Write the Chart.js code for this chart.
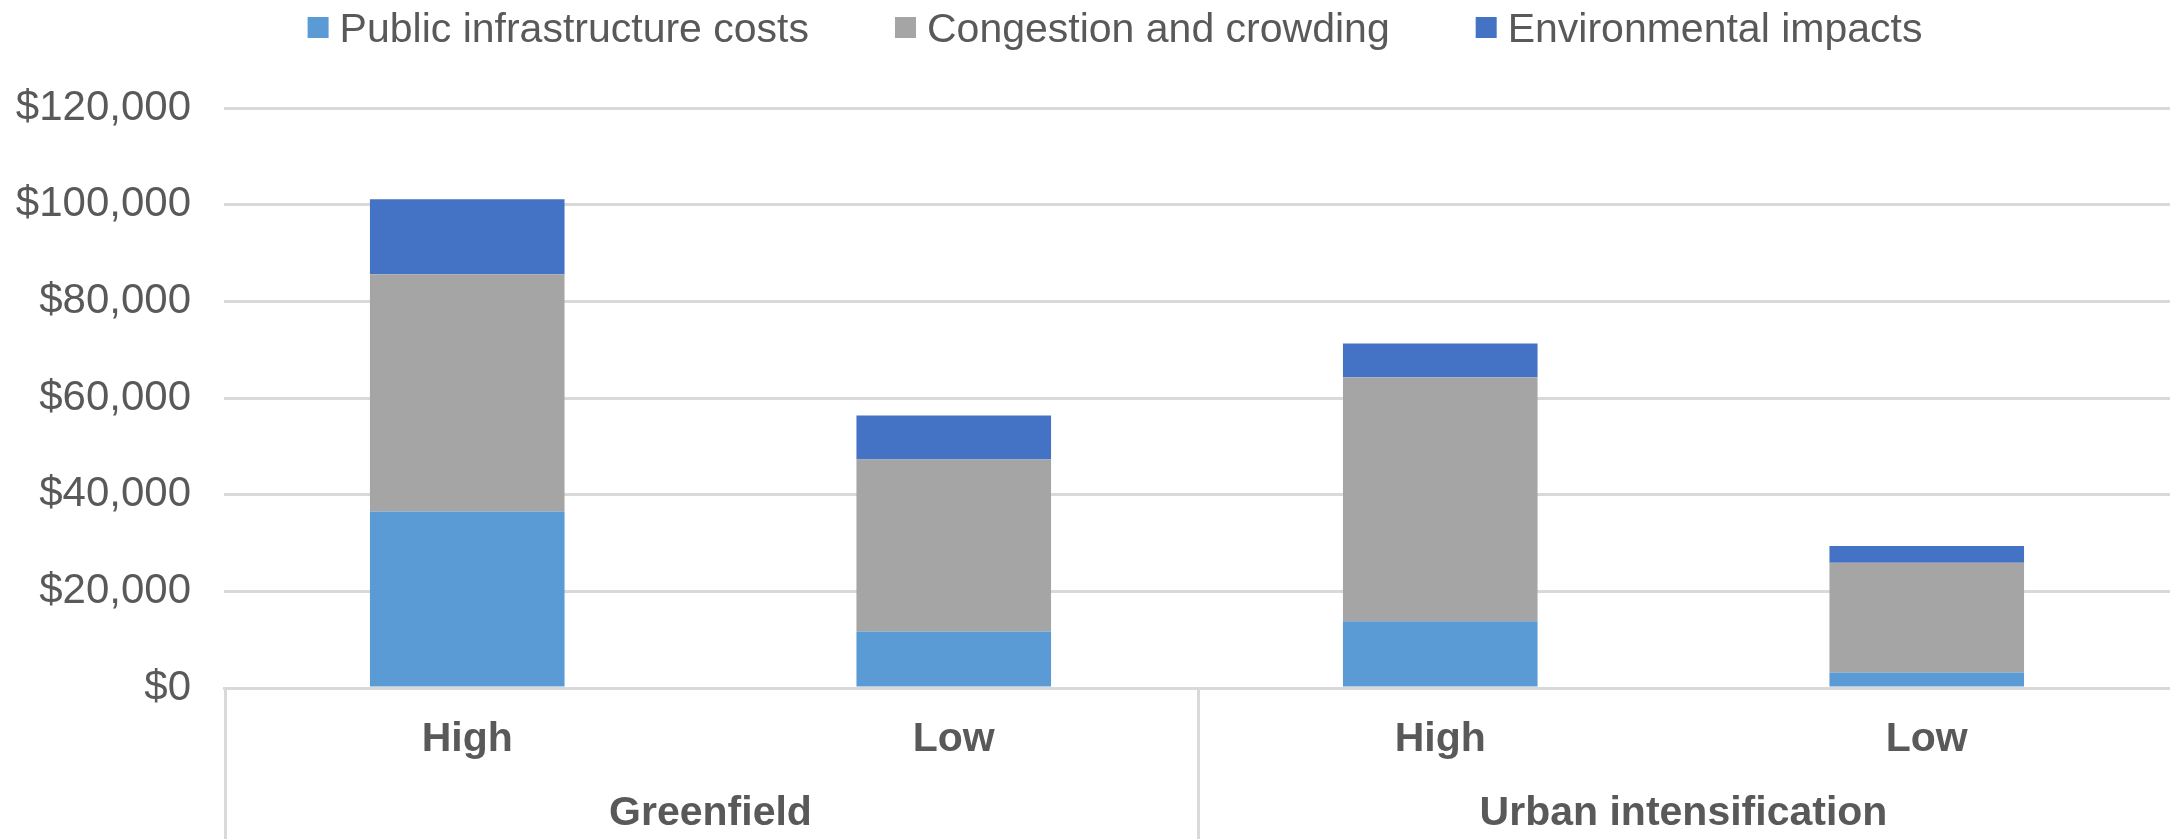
<!DOCTYPE html>
<html>
<head>
<meta charset="utf-8">
<title>Cost per dwelling by development type</title>
<script src="https://cdn.jsdelivr.net/npm/chart.js@4.4.1/dist/chart.umd.min.js"></script>
<style>
  html, body { margin: 0; padding: 0; background: #fff; }
  #chart { display: block; }
</style>
</head>
<body>
<canvas id="chart" width="2170" height="839"></canvas>
<script>
// Scenario labels along the axis, grouped two per development type
const scenarios = ['High', 'Low', 'High', 'Low'];
const groups = ['Greenfield', 'Urban intensification'];

// Cost per dwelling ($)
const infrastructure = [36500, 11700, 13800, 3200];
const congestion = [49100, 35600, 50500, 22700];
const environmental = [15500, 9100, 7000, 3500];

const yMax = 120000;
const yStep = 20000;

const textColor = '#595959';
const lineColor = '#d9d9d9';
const family = "'Liberation Sans', Arial, sans-serif";

// Second row of category labels plus the separators under the axis
const groupAxis = {
    id: 'groupAxis',
    afterDraw(chart) {
        const { ctx, chartArea, scales: { x } } = chart;
        const per = scenarios.length / groups.length;
        ctx.save();
        ctx.strokeStyle = lineColor;
        ctx.lineWidth = 3;
        for (let g = 0; g <= groups.length; g++) {
            let px;
            if (g === 0) px = x.left;
            else if (g === groups.length) px = x.right;
            else px = (x.getPixelForValue(g * per - 1) + x.getPixelForValue(g * per)) / 2;
            ctx.beginPath();
            ctx.moveTo(px + 1.5, chartArea.bottom);
            ctx.lineTo(px + 1.5, chart.height);
            ctx.stroke();
        }
        ctx.fillStyle = textColor;
        ctx.font = `bold 41px ${family}`;
        ctx.textAlign = 'center';
        ctx.textBaseline = 'alphabetic';
        groups.forEach((name, g) => {
            const a = x.getPixelForValue(g * per);
            const b = x.getPixelForValue(g * per + per - 1);
            ctx.fillText(name, (a + b) / 2, 825);
        });
        ctx.restore();
    }
};

// Legend row: square swatch, label, then a fixed gap to the next item
const legendRow = {
    id: 'legendRow',
    afterDraw(chart) {
        const { ctx } = chart;
        const box = 21, boxGap = 11, itemGap = 86;
        ctx.save();
        ctx.font = `41px ${family}`;
        const items = chart.data.datasets.map(ds => ({
            label: ds.label,
            color: ds.backgroundColor,
            w: ctx.measureText(ds.label).width
        }));
        const total = items.reduce((s, it) => s + box + boxGap + it.w, 0) + itemGap * (items.length - 1);
        let cx = chart.width / 2 + 30 - total / 2;
        ctx.textBaseline = 'alphabetic';
        ctx.textAlign = 'left';
        items.forEach(it => {
            ctx.fillStyle = it.color;
            ctx.fillRect(cx, 17, box, box);
            ctx.fillStyle = textColor;
            ctx.fillText(it.label, cx + box + boxGap, 42);
            cx += box + boxGap + it.w + itemGap;
        });
        ctx.restore();
    }
};

new Chart(document.querySelector('#chart').getContext('2d'), {
    type: 'bar',
    data: {
        labels: scenarios,
        datasets: [
            {
                label: 'Public infrastructure costs',
                data: infrastructure,
                backgroundColor: '#5b9bd5'
            },
            {
                label: 'Congestion and crowding',
                data: congestion,
                backgroundColor: '#a5a5a5'
            },
            {
                label: 'Environmental impacts',
                data: environmental,
                backgroundColor: '#4472c4'
            }
        ]
    },
    options: {
        responsive: false,
        animation: false,
        devicePixelRatio: 1,
        categoryPercentage: 0.8,
        barPercentage: 0.5,
        layout: { padding: { top: 108, right: 0, left: 0, bottom: 0 } },
        plugins: {
            legend: { display: false },
            tooltip: { enabled: false }
        },
        scales: {
            x: {
                stacked: true,
                grid: { display: false, drawTicks: false },
                border: { display: true, color: lineColor, width: 3 },
                ticks: {
                    color: textColor,
                    padding: 27,
                    font: { family: family, size: 41, weight: 'bold' }
                },
                afterFit(scale) { scale.height = 151; }
            },
            y: {
                stacked: true,
                min: 0,
                max: yMax,
                grid: { color: lineColor, lineWidth: 3, drawTicks: false },
                border: { display: false },
                ticks: {
                    stepSize: yStep,
                    color: textColor,
                    padding: 33,
                    font: { family: family, size: 42 },
                    callback: v => '$' + v.toLocaleString('en-US')
                },
                afterFit(scale) { scale.width = 224; }
            }
        }
    },
    plugins: [groupAxis, legendRow]
});
</script>
</body>
</html>
